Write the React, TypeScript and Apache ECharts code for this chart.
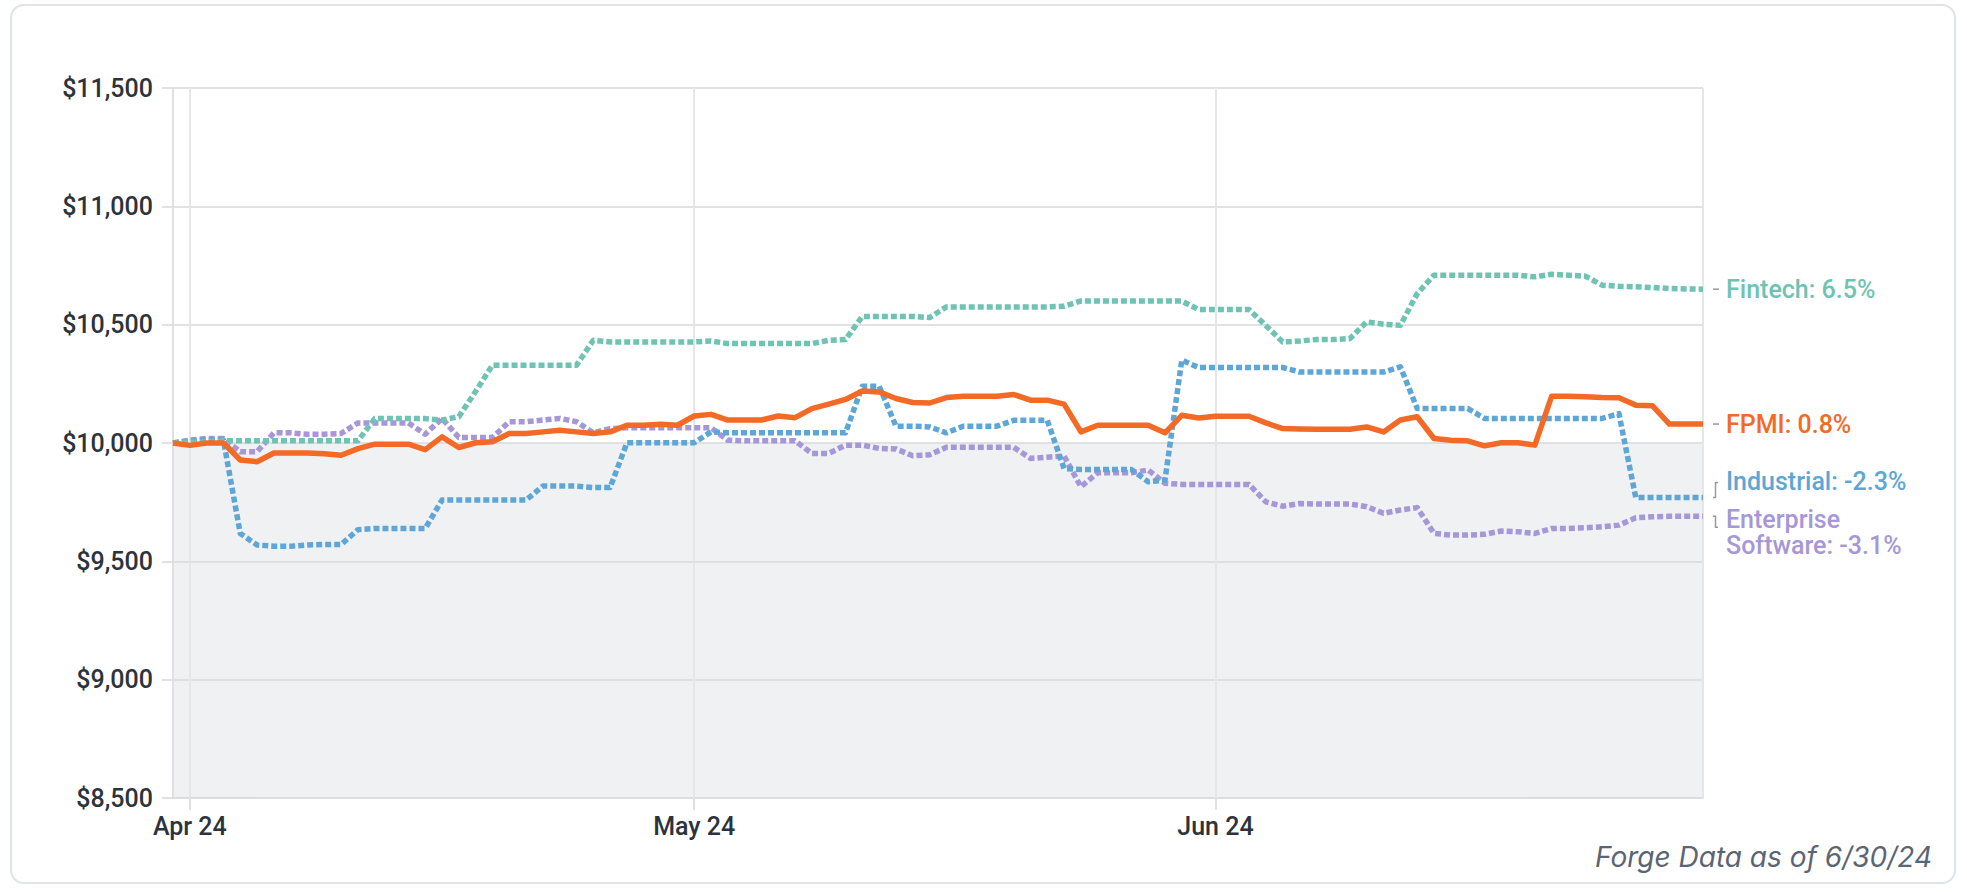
import React, { useEffect, useRef } from 'react';
import * as echarts from 'echarts';

// Daily index values, Mar 31 2024 .. Jun 30 2024 (92 days)
const fpmi = [
  10000, 9990, 10000, 10000, 9928, 9921, 9958, 9958, 9958, 9955,
  9948, 9976, 9995, 9995, 9995, 9972, 10026, 9981, 10001, 10005,
  10040, 10040, 10047, 10054, 10047, 10040, 10047, 10075, 10075, 10079,
  10075, 10114, 10121, 10097, 10097, 10097, 10114, 10107, 10145, 10164,
  10184, 10220, 10216, 10188, 10171, 10169, 10192, 10198, 10198, 10198,
  10205, 10181, 10181, 10164, 10047, 10075, 10075, 10075, 10075, 10043,
  10117, 10106, 10113, 10113, 10113, 10085, 10061, 10059, 10058, 10058,
  10058, 10068, 10047, 10097, 10111, 10019, 10012, 10009, 9988, 10001,
  10001, 9991, 10198, 10198, 10195, 10192, 10191, 10160, 10157, 10080,
  10080, 10080,
];

const fintech = [
  10000, 10003, 10005, 10009, 10009, 10009, 10009, 10009, 10009, 10009,
  10009, 10009, 10103, 10103, 10103, 10103, 10097, 10111, 10218, 10329,
  10329, 10329, 10329, 10329, 10329, 10434, 10427, 10427, 10427, 10427,
  10427, 10427, 10431, 10420, 10420, 10420, 10420, 10420, 10420, 10434,
  10437, 10535, 10535, 10535, 10535, 10530, 10575, 10575, 10575, 10575,
  10575, 10575, 10575, 10578, 10600, 10600, 10600, 10600, 10600, 10600,
  10600, 10564, 10564, 10564, 10564, 10496, 10427, 10431, 10437, 10437,
  10441, 10512, 10502, 10497, 10631, 10709, 10709, 10709, 10709, 10709,
  10709, 10702, 10713, 10709, 10705, 10667, 10662, 10660, 10657, 10653,
  10651, 10650,
];

const industrial = [
  10000, 10009, 10014, 10012, 9618, 9569, 9564, 9564, 9569, 9571,
  9571, 9634, 9639, 9639, 9639, 9639, 9759, 9759, 9759, 9759,
  9759, 9759, 9818, 9818, 9818, 9812, 9812, 10001, 10001, 10001,
  10001, 10001, 10047, 10043, 10043, 10043, 10043, 10043, 10043, 10043,
  10043, 10240, 10240, 10071, 10071, 10068, 10043, 10071, 10071, 10071,
  10096, 10096, 10096, 9892, 9888, 9888, 9888, 9888, 9836, 9843,
  10350, 10319, 10319, 10319, 10319, 10319, 10319, 10300, 10300, 10300,
  10300, 10300, 10300, 10322, 10146, 10146, 10146, 10146, 10104, 10104,
  10104, 10104, 10104, 10104, 10104, 10104, 10124, 9770, 9770, 9770,
  9770, 9770,
];

const enterprise = [
  10000, 10012, 10019, 10019, 9963, 9963, 10043, 10043, 10037, 10037,
  10040, 10085, 10085, 10085, 10085, 10037, 10104, 10023, 10023, 10023,
  10090, 10090, 10097, 10104, 10090, 10043, 10061, 10064, 10064, 10064,
  10064, 10064, 10064, 10012, 10009, 10009, 10009, 10009, 9956, 9956,
  9991, 9991, 9977, 9975, 9946, 9950, 9982, 9982, 9982, 9982,
  9982, 9935, 9940, 9945, 9815, 9874, 9874, 9874, 9886, 9830,
  9825, 9825, 9825, 9825, 9825, 9751, 9733, 9744, 9742, 9742,
  9742, 9731, 9703, 9717, 9727, 9618, 9611, 9611, 9614, 9628,
  9625, 9618, 9639, 9639, 9642, 9646, 9653, 9684, 9688, 9690,
  9690, 9690,
];

const endLabels = {
  fintech: 'Fintech: 6.5%',
  fpmi: 'FPMI: 0.8%',
  industrial: 'Industrial: -2.3%',
  enterprise: 'Enterprise\nSoftware: -3.1%',
};

const monthNames = ['Jan', 'Feb', 'Mar', 'Apr', 'May', 'Jun', 'Jul', 'Aug', 'Sep', 'Oct', 'Nov', 'Dec'];
const footnote = 'Forge Data as of 6/30/24';

const COLORS = {
  fpmi: '#f26a26',
  fintech: '#6ec3b3',
  industrial: '#5ea6d6',
  enterprise: '#a597d8',
};

const FONT = 'Roboto, "Noto Sans", sans-serif';
const FOOT_FONT = 'italic 400 28px Inter, Roboto, sans-serif';

export default function App() {
  const ref = useRef<HTMLDivElement>(null);

  useEffect(() => {
    document.body.style.margin = '0';
    const chart = echarts.init(ref.current as HTMLDivElement, null, { renderer: 'svg' });
    const dates = fpmi.map((_, i) => new Date(2024, 2, 31 + i).getTime());
    const pair = (arr: number[]) => arr.map((v, i) => [dates[i], v]);

    const mk = (name: string, data: number[], color: string, dotted: boolean, label: string, offsetY: number, z: number) => ({
      name,
      type: 'line',
      data: pair(data),
      showSymbol: false,
      symbol: 'none',
      silent: true,
      z,
      lineStyle: {
        color,
        width: 5.5,
        type: dotted ? [6, 3] : 'solid',
        cap: 'butt',
        join: 'round',
      },
      endLabel: {
        show: true,
        formatter: label,
        color,
        fontFamily: FONT,
        fontSize: 25,
        fontWeight: 500,
        distance: 23,
        offset: [0, offsetY],
        lineHeight: 26,
      },
      emphasis: { disabled: true },
    });

    const axisText = { color: '#2c333d', fontFamily: FONT, fontSize: 25, fontWeight: 500 };

    chart.setOption({
      animation: false,
      grid: { left: 173, top: 88, right: 264, bottom: 94, containLabel: false },
      xAxis: {
        type: 'time',
        min: new Date(2024, 2, 31).getTime(),
        max: new Date(2024, 5, 30).getTime(),
        splitNumber: 3,
        minInterval: 28 * 86400000,
        axisLine: { show: true, lineStyle: { color: '#dcdcdc', width: 1.5 } },
        axisTick: { show: true, length: 12, lineStyle: { color: '#e0e1e4', width: 2 } },
        splitLine: { show: true, lineStyle: { color: '#e4e6e9', width: 2 } },
        axisLabel: {
          ...axisText,
          margin: 16,
          showMinLabel: false,
          showMaxLabel: false,
          formatter: (val: number) => {
            const d = new Date(val);
            return monthNames[d.getMonth()] + ' ' + String(d.getFullYear()).slice(2);
          },
        },
      },
      yAxis: {
        type: 'value',
        min: 8500,
        max: 11500,
        interval: 500,
        axisLine: { show: true, lineStyle: { color: '#e0e1e4', width: 2 } },
        axisTick: { show: true, length: 11, lineStyle: { color: '#d8d8d8', width: 1.5 } },
        splitLine: { show: true, lineStyle: { color: '#d9d9d9', width: 1.5 } },
        splitArea: {
          show: true,
          areaStyle: {
            color: ['#f0f1f3', '#f0f1f3', '#f0f1f3', 'rgba(255,255,255,0)', 'rgba(255,255,255,0)', 'rgba(255,255,255,0)'],
          },
        },
        axisLabel: {
          ...axisText,
          margin: 20,
          formatter: (v: number) => '$' + v.toLocaleString('en-US'),
        },
      },
      series: [
        mk('Enterprise Software', enterprise, COLORS.enterprise, true, endLabels.enterprise, 16, 3),
        mk('Industrial', industrial, COLORS.industrial, true, endLabels.industrial, -16, 4),
        mk('Fintech', fintech, COLORS.fintech, true, endLabels.fintech, 0, 5),
        mk('FPMI', fpmi, COLORS.fpmi, false, endLabels.fpmi, 0, 6),
      ],
    });

    // label connectors, positioned from the chart's own scales
    const last = dates.length - 1;
    const px = (v: number) => chart.convertToPixel({ xAxisIndex: 0, yAxisIndex: 0 }, [dates[last], v]) as number[];
    const gray = { stroke: '#9a9a9a', lineWidth: 1.5, fill: 'none' };
    const pF = px(fintech[last]);
    const pP = px(fpmi[last]);
    const pI = px(industrial[last]);
    const pE = px(enterprise[last]);
    chart.setOption({
      graphic: [
        {
          type: 'text',
          right: 35,
          top: 843,
          style: { text: footnote, font: FOOT_FONT, fill: '#5b6472' },
        },
        { type: 'line', shape: { x1: pF[0] + 10, y1: pF[1], x2: pF[0] + 16, y2: pF[1] }, style: gray, silent: true },
        { type: 'line', shape: { x1: pP[0] + 10, y1: pP[1], x2: pP[0] + 16, y2: pP[1] }, style: gray, silent: true },
        {
          type: 'polyline',
          shape: { points: [[pI[0] + 10, pI[1]], [pI[0] + 12.5, pI[1]], [pI[0] + 12.5, pI[1] - 15], [pI[0] + 15, pI[1] - 15]] },
          style: gray,
          silent: true,
        },
        {
          type: 'polyline',
          shape: { points: [[pE[0] + 10, pE[1]], [pE[0] + 12.5, pE[1]], [pE[0] + 12.5, pE[1] + 11], [pE[0] + 15, pE[1] + 11]] },
          style: gray,
          silent: true,
        },
      ],
    });

    return () => chart.dispose();
  }, []);

  return (
    <div style={{ position: 'relative', width: 1967, height: 892, background: '#ffffff', overflow: 'hidden' }}>
      <div
        style={{
          position: 'absolute',
          left: 10,
          top: 4,
          width: 1946,
          height: 880,
          border: '2px solid #dfe4ea',
          borderRadius: 14,
          boxSizing: 'border-box',
        }}
      />
      <div ref={ref} style={{ position: 'absolute', left: 0, top: 0, width: 1967, height: 892 }} />
    </div>
  );
}
